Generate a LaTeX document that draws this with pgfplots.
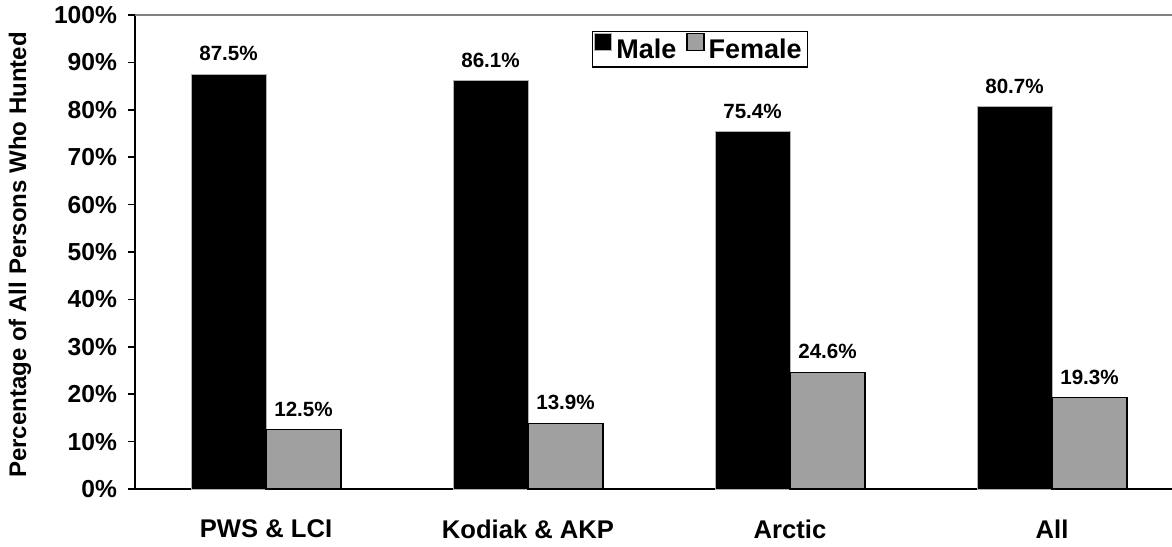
\documentclass[border=0pt]{standalone}
\usepackage{fontspec}
\setmainfont{Liberation Sans}
\usepackage{pgfplots}
\pgfplotsset{compat=1.18}

\definecolor{femgray}{HTML}{A0A0A0}

\begin{document}
\begin{tikzpicture}
  \begin{axis}[
      at={(67.5pt,28.5pt)}, anchor=south west,
      scale only axis,
      width=524pt, height=237pt,
      ymin=0, ymax=100,
      xmin=-0.5, xmax=3.5,
      ytick={0,10,...,100},
      yticklabel={\pgfmathprintnumber{\tick}\%},
      /pgf/number format/assume math mode=true,
      yticklabel style={font=\fontsize{12.3}{14}\selectfont\bfseries, xshift=-2pt},
      xtick={0,1,2,3},
      xticklabels={PWS \& LCI, Kodiak \& AKP, Arctic, All},
      xticklabel style={font=\fontsize{12.8}{14}\selectfont\bfseries, yshift=-8.5pt},
      major x tick style={draw=none},
      extra x ticks={0.5,1.5,2.5},
      extra x tick labels={},
      extra x tick style={tick style={gray, line width=0.8pt}, major tick length=4pt, tick align=inside},
      y tick style={black, line width=0.8pt},
      tick align=outside,
      major tick length=3.5pt,
      axis lines*=left,
      axis line style={-, line width=0.8pt},
      ybar, bar width=37.5pt,
      nodes near coords={\pgfmathprintnumber[fixed, precision=1, fixed zerofill]{\pgfplotspointmeta}\%},
      nodes near coords style={font=\fontsize{10.3}{12}\selectfont\bfseries, yshift=3pt},
      legend columns=2,
      legend style={at={(0.539,0.928)}, anchor=center, draw=black, line width=0.6pt,
        font=\fontsize{13.5}{15}\selectfont\bfseries, inner sep=1pt,
        /tikz/every even column/.append style={column sep=3pt}},
      legend image code/.code={\draw[#1, line width=0.6pt] (0pt,-0.5pt) rectangle (8.5pt,8pt);},
      clip=false,
    ]
    \addplot[fill=black, draw=gray!60, bar shift=-18.75pt] coordinates {(0,87.5) (1,86.1) (2,75.4) (3,80.7)};
    \addlegendentry{Male}
    \addplot[fill=femgray, draw=black, line width=0.6pt, bar shift=18.75pt] coordinates {(0,12.5) (1,13.9) (2,24.6) (3,19.3)};
    \addlegendentry{Female}
    \draw[gray, line width=1pt] (rel axis cs:0,1) -- (rel axis cs:1,1);
  \end{axis}
  \node[rotate=90, font=\fontsize{12}{14}\selectfont\bfseries] at (10pt,145.5pt) {Percentage of All Persons Who Hunted};
  \pgfresetboundingbox
  \useasboundingbox (0,0) rectangle (586pt,273pt);
\end{tikzpicture}
\end{document}
